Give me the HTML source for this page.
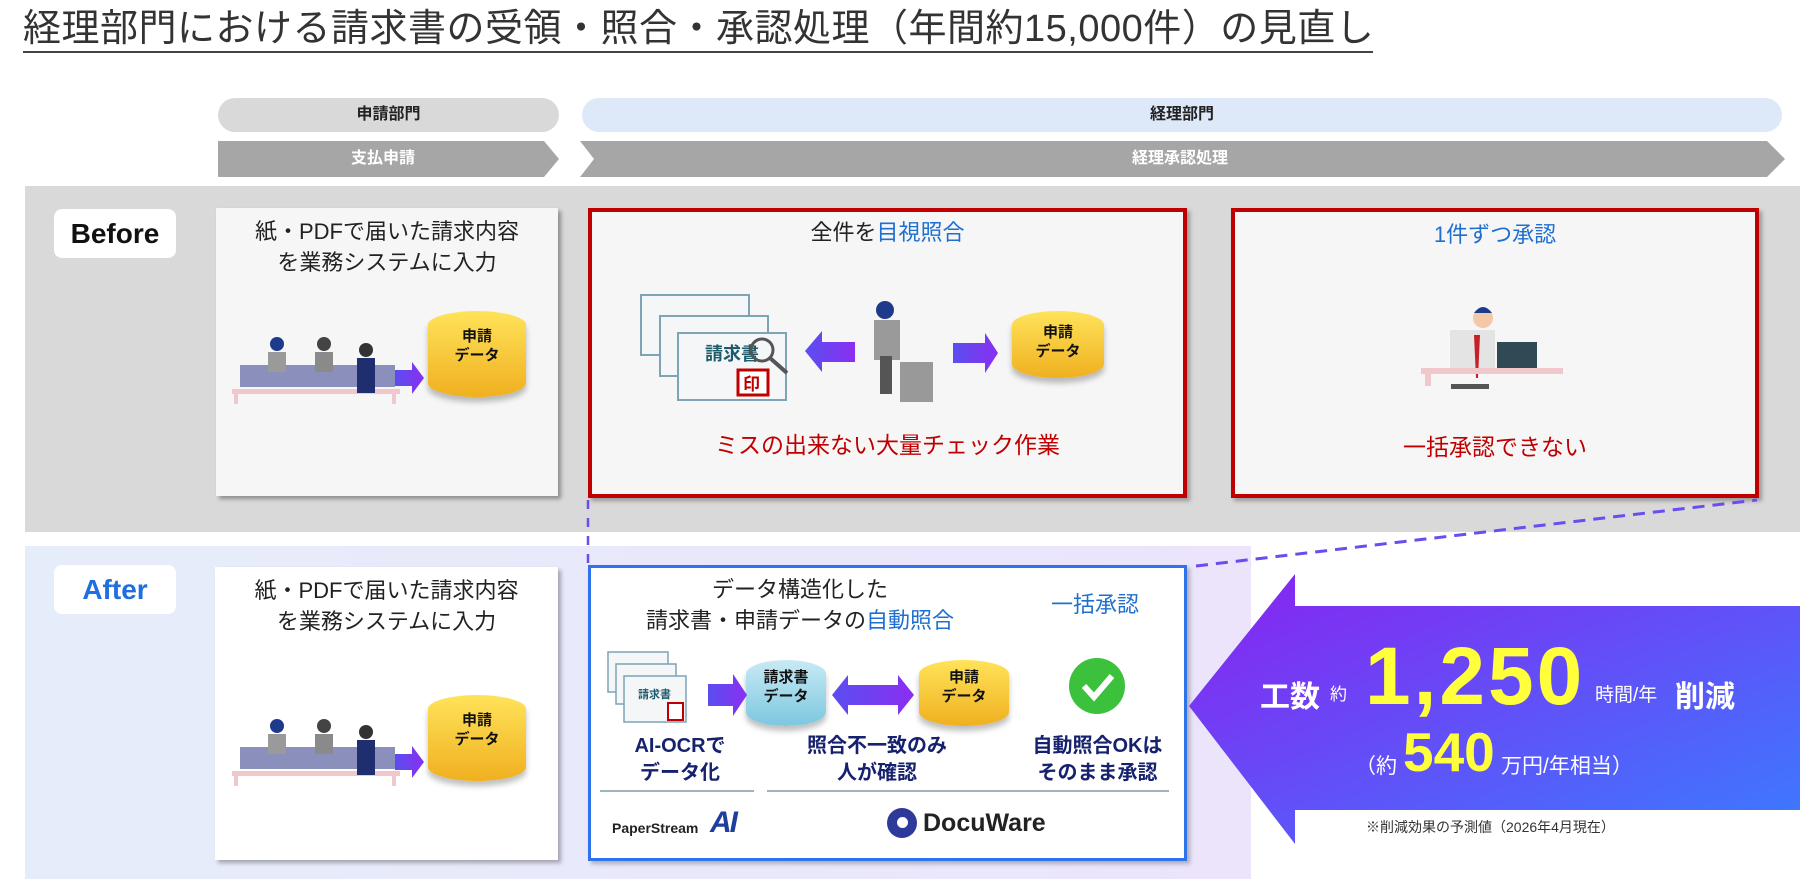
<!DOCTYPE html>
<html><head><meta charset="utf-8"><style>
*{margin:0;padding:0;box-sizing:border-box}
body{width:1800px;height:879px;position:relative;background:#fff;font-family:"Liberation Sans","Noto Sans CJK JP",sans-serif;overflow:hidden;color:#222}
.a{position:absolute}
.c{text-align:center}
.b{font-weight:bold}
.cyl{position:absolute;border-radius:50%/14px;box-shadow:0 5px 6px rgba(0,0,0,.25)}
.cyl span{position:absolute;left:0;right:0;top:16px;text-align:center;font-weight:bold;font-size:15px;line-height:19px;color:#111}
.lbl{font-weight:bold;color:#17226e;font-size:20px;line-height:27px;text-align:center}
</style></head><body>
<div class="a" style="left:23px;top:7px;font-size:38px;line-height:44px;color:#333;white-space:nowrap;letter-spacing:0.5px">経理部門における請求書の受領・照合・承認処理（年間約15,000件）の見直し</div>
<div class="a" style="left:23px;top:51px;width:1350px;height:2px;background:#444"></div>

<div class="a c b" style="left:218px;top:98px;width:341px;height:34px;border-radius:17px;background:#d9d9d9;font-size:16px;line-height:34px">申請部門</div>
<div class="a c b" style="left:582px;top:98px;width:1200px;height:34px;border-radius:17px;background:#dde8f8;font-size:16px;line-height:34px">経理部門</div>
<svg class="a" style="left:0;top:0" width="1800" height="879">
<polygon points="218,141 544,141 559,159 544,177 218,177" fill="#a6a6a6"/>
<polygon points="580,141 1767,141 1785,159 1767,177 580,177 594,159" fill="#a6a6a6"/>
</svg>
<div class="a c b" style="left:218px;top:141px;width:330px;font-size:16px;line-height:36px;color:#fff">支払申請</div>
<div class="a c b" style="left:590px;top:141px;width:1180px;font-size:16px;line-height:36px;color:#fff">経理承認処理</div>

<div class="a" style="left:25px;top:186px;width:1775px;height:346px;background:#d9d9d9"></div>
<div class="a" style="left:25px;top:546px;width:1226px;height:333px;background:linear-gradient(90deg,#e6edfa,#ebe4fb)"></div>

<div class="a c b" style="left:54px;top:209px;width:122px;height:49px;background:#fff;border-radius:8px;font-size:28px;line-height:49px;color:#111">Before</div>
<div class="a c b" style="left:54px;top:565px;width:122px;height:49px;background:#fff;border-radius:8px;font-size:28px;line-height:49px;color:#1f6fe0">After</div>

<div class="a" style="left:216px;top:208px;width:342px;height:288px;background:#f6f6f6;box-shadow:3px 3px 4px rgba(0,0,0,.35)"></div>
<div class="a c" style="left:216px;top:216px;width:342px;font-size:22px;line-height:31px">紙・PDFで届いた請求内容<br>を業務システムに入力</div>
<div class="a" style="left:215px;top:567px;width:343px;height:293px;background:#fff;box-shadow:3px 3px 4px rgba(0,0,0,.3)"></div>
<div class="a c" style="left:215px;top:575px;width:343px;font-size:22px;line-height:31px">紙・PDFで届いた請求内容<br>を業務システムに入力</div>

<div class="a" style="left:588px;top:208px;width:599px;height:290px;background:#f6f6f6;border:4px solid #c00000;box-shadow:3px 3px 4px rgba(0,0,0,.3)"></div>
<div class="a c" style="left:588px;top:218px;width:599px;font-size:22px;line-height:30px">全件を<span style="color:#1f6fd0">目視照合</span></div>
<div class="a c" style="left:588px;top:430px;width:599px;font-size:23px;line-height:30px;color:#c00000">ミスの出来ない大量チェック作業</div>
<div class="a" style="left:1231px;top:208px;width:528px;height:290px;background:#f6f6f6;border:4px solid #c00000;box-shadow:3px 3px 4px rgba(0,0,0,.3)"></div>
<div class="a c" style="left:1231px;top:220px;width:528px;font-size:22px;line-height:30px;color:#1f6fd0">1件ずつ承認</div>
<div class="a c" style="left:1231px;top:432px;width:528px;font-size:23px;line-height:30px;color:#c00000">一括承認できない</div>

<div class="a" style="left:588px;top:565px;width:599px;height:296px;background:#fff;border:3px solid #2f73ea;box-shadow:3px 3px 4px rgba(0,0,0,.25)"></div>
<div class="a c" style="left:600px;top:574px;width:400px;font-size:22px;line-height:31px">データ構造化した<br>請求書・申請データの<span style="color:#1f6fd0">自動照合</span></div>
<div class="a c" style="left:1030px;top:590px;width:130px;font-size:22px;line-height:30px;color:#1f6fd0">一括承認</div>
<div class="a lbl" style="left:600px;top:733px;width:160px">AI-OCRで<br>データ化</div>
<div class="a lbl" style="left:777px;top:733px;width:200px">照合不一致のみ<br>人が確認</div>
<div class="a lbl" style="left:1005px;top:733px;width:185px">自動照合OKは<br>そのまま承認</div>
<div class="a" style="left:600px;top:790px;width:154px;height:2px;background:#9fb3bf"></div>
<div class="a" style="left:767px;top:790px;width:402px;height:2px;background:#9fb3bf"></div>
<div class="a b" style="left:612px;top:820px;font-size:14px;color:#222">PaperStream</div>
<div class="a b" style="left:710px;top:806px;font-size:30px;font-style:italic;color:#1e3f9e;letter-spacing:-2px">AI</div>
<div class="a" style="left:887px;top:808px;width:30px;height:30px;border-radius:50%;background:#2d3a9a"></div>
<div class="a" style="left:897px;top:817px;width:11px;height:11px;border-radius:50%;background:#fff"></div>
<div class="a b" style="left:923px;top:808px;font-size:25px;line-height:30px;color:#222">DocuWare</div>

<div class="cyl" style="left:428px;top:311px;width:98px;height:86px;background:linear-gradient(180deg,#ffe35a,#f0b020)"><span>申請<br>データ</span></div>
<div class="cyl" style="left:1012px;top:311px;width:92px;height:67px;background:linear-gradient(180deg,#ffe35a,#f0b020)"><span style="top:12px">申請<br>データ</span></div>
<div class="cyl" style="left:428px;top:695px;width:98px;height:86px;background:linear-gradient(180deg,#ffe35a,#f0b020)"><span>申請<br>データ</span></div>
<div class="cyl" style="left:746px;top:660px;width:80px;height:66px;background:linear-gradient(180deg,#c8eaf4,#7cc7e0)"><span style="top:8px">請求書<br>データ</span></div>
<div class="cyl" style="left:919px;top:660px;width:90px;height:66px;background:linear-gradient(180deg,#ffe35a,#f0b020)"><span style="top:8px">申請<br>データ</span></div>

<svg class="a" style="left:0;top:0" width="1800" height="879">
<defs><linearGradient id="ar" x1="0" x2="1"><stop offset="0" stop-color="#5a4ef0"/><stop offset="1" stop-color="#8a2ff0"/></linearGradient>
<linearGradient id="big" x1="0" y1="0" x2="1" y2="1"><stop offset="0" stop-color="#8a22f0"/><stop offset="1" stop-color="#3a7cff"/></linearGradient></defs>
<g id="ppl">
<rect x="240" y="365" width="155" height="22" fill="#8a8fbc"/>
<rect x="232" y="389" width="168" height="5" fill="#f0c8cc"/>
<rect x="234" y="394" width="4" height="10" fill="#f0c8cc"/><rect x="392" y="394" width="4" height="10" fill="#f0c8cc"/>
<circle cx="277" cy="344" r="7" fill="#1e3a8a"/><rect x="268" y="352" width="18" height="20" fill="#9a9a9a"/>
<circle cx="324" cy="344" r="7" fill="#444"/><rect x="315" y="352" width="18" height="20" fill="#8a8a8a"/>
<circle cx="366" cy="350" r="7" fill="#333"/><rect x="357" y="358" width="18" height="35" fill="#1e2e6e"/>
</g>
<use href="#ppl" x="0" y="382"/>
<polygon points="395,370 412,370 412,362 424,378 412,394 412,386 395,386" fill="url(#ar)"/>
<polygon points="395,754 412,754 412,746 424,762 412,778 412,770 395,770" fill="url(#ar)"/>
<g fill="#f4f6f8" stroke="#7da3b5" stroke-width="2">
<rect x="641" y="295" width="108" height="60"/><rect x="660" y="316" width="108" height="60"/><rect x="678" y="333" width="108" height="67"/></g>
<text x="705" y="360" font-size="18" font-weight="bold" fill="#1d5a6a" font-family="Liberation Sans,Noto Sans CJK JP,sans-serif">請求書</text>
<rect x="738" y="370" width="30" height="25" fill="#fff" stroke="#c00000" stroke-width="3"/>
<text x="743" y="390" font-size="17" fill="#c00000" font-weight="bold" font-family="Noto Sans CJK JP,sans-serif">印</text>
<circle cx="762" cy="350" r="11" fill="none" stroke="#555" stroke-width="3"/><line x1="770" y1="358" x2="787" y2="373" stroke="#555" stroke-width="4"/>
<polygon points="805,351 822,331 822,342 855,342 855,362 822,362 822,372" fill="url(#ar)"/>
<circle cx="885" cy="310" r="9" fill="#1e3a8a"/><rect x="874" y="320" width="26" height="40" fill="#9a9a9a"/><rect x="880" y="356" width="12" height="38" fill="#555"/><rect x="900" y="362" width="33" height="40" fill="#999"/>
<polygon points="953,343 985,343 985,333 998,353 985,373 985,363 953,363" fill="url(#ar)"/>
<circle cx="1483" cy="318" r="10" fill="#f5c8a8"/><path d="M1474 313 q9 -12 18 0 z" fill="#1e3a8a"/>
<rect x="1450" y="330" width="45" height="40" fill="#e4e4e4"/><polygon points="1474,335 1480,335 1478,378 1476,378" fill="#c8202a"/>
<rect x="1497" y="342" width="40" height="27" fill="#2f4a55"/>
<rect x="1421" y="368" width="142" height="6" fill="#f0c8cc"/><rect x="1425" y="374" width="6" height="12" fill="#f0c8cc"/>
<rect x="1451" y="384" width="38" height="5" fill="#555"/>
<g fill="#f4f6f8" stroke="#7da3b5" stroke-width="1.5">
<rect x="608" y="652" width="60" height="40"/><rect x="616" y="664" width="60" height="40"/><rect x="624" y="676" width="62" height="46"/></g>
<text x="638" y="698" font-size="11" font-weight="bold" fill="#1d5a6a" font-family="Noto Sans CJK JP,sans-serif">請求書</text>
<rect x="668" y="703" width="15" height="17" fill="#fff" stroke="#c00000" stroke-width="2"/>
<polygon points="708,684 733,684 733,674 747,695 733,716 733,706 708,706" fill="url(#ar)"/>
<polygon points="832,695 848,675 848,685 898,685 898,675 914,695 898,715 898,705 848,705 848,715" fill="url(#ar)"/>
<circle cx="1097" cy="686" r="28" fill="#3cc13c"/>
<polyline points="1084,686 1094,697 1112,676" fill="none" stroke="#fff" stroke-width="6"/>
<line x1="588" y1="500" x2="588" y2="563" stroke="#6a4cf0" stroke-width="2.5" stroke-dasharray="9,9"/>
<line x1="1196" y1="566" x2="1757" y2="500" stroke="#6a4cf0" stroke-width="3" stroke-dasharray="12,8"/>
<polygon points="1189,706 1295,574 1295,606 1800,606 1800,810 1295,810 1295,844" fill="url(#big)"/>
</svg>
<div class="a b" style="left:1255px;top:660px;width:545px;white-space:nowrap;color:#fff">
<span style="position:absolute;left:5px;top:12px;font-size:30px">工数</span>
<span style="position:absolute;left:75px;top:20px;font-size:17px;font-weight:normal">約</span>
<span style="position:absolute;left:110px;top:-30px;font-size:82px;letter-spacing:3px;color:#ffff3c">1,250</span>
<span style="position:absolute;left:340px;top:20px;font-size:19px;font-weight:normal">時間/年</span>
<span style="position:absolute;left:420px;top:12px;font-size:30px">削減</span>
</div>
<div class="a" style="left:1355px;top:732px;white-space:nowrap;color:#fff;font-size:21px">
<span style="position:absolute;left:0;top:18px">（約</span>
<span style="position:absolute;left:48px;top:-12px;font-size:55px;font-weight:bold;color:#ffff3c">540</span>
<span style="position:absolute;left:146px;top:18px">万円/年相当）</span>
</div>
<div class="a" style="left:1366px;top:817px;font-size:14px;color:#333;white-space:nowrap">※削減効果の予測値（2026年4月現在）</div>
</body></html>
